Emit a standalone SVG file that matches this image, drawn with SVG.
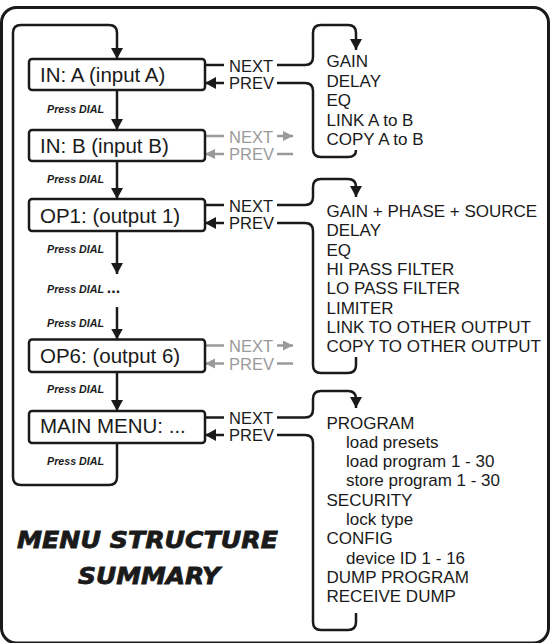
<svg xmlns="http://www.w3.org/2000/svg" width="551" height="643" viewBox="0 0 551 643">
<style>
.box{fill:#fff;stroke:#1a1a1a;stroke-width:2.5}
.bt{font-family:"Liberation Sans",Arial,sans-serif;font-size:20.5px;fill:#1a1a1a}
.nav{font-family:"Liberation Sans",Arial,sans-serif;font-size:16.5px;fill:#1a1a1a}
.navg{font-family:"Liberation Sans",Arial,sans-serif;font-size:16.5px;fill:#9a9a9a}
.pd{font-family:"Liberation Sans",Arial,sans-serif;font-size:10.7px;font-weight:bold;font-style:italic;fill:#1a1a1a}
.li{font-family:"Liberation Sans",Arial,sans-serif;font-size:17px;fill:#1a1a1a}
.ttl{font-family:"DejaVu Sans",sans-serif;font-size:23px;font-weight:bold;font-style:italic;fill:#1a1a1a;stroke:#1a1a1a;stroke-width:0.8}
.c{fill:none;stroke:#1a1a1a;stroke-width:2.5}
.cg{fill:none;stroke:#9a9a9a;stroke-width:2.5}
</style>
<defs>
<marker id="ah" markerUnits="userSpaceOnUse" markerWidth="12" markerHeight="12" refX="11" refY="6" orient="auto"><path d="M0,0 L11,6 L0,12 z" fill="#1a1a1a"/></marker>
<marker id="ahg" markerUnits="userSpaceOnUse" markerWidth="11" markerHeight="11" refX="10" refY="5" orient="auto"><path d="M0,0 L10,5 L0,10 z" fill="#9a9a9a"/></marker>
</defs>
<rect x="1.5" y="7.5" width="547" height="635.5" rx="15" fill="none" stroke="#1a1a1a" stroke-width="3"/>
<g id="connectors">
<path class="c" d="M117,443 V477 Q117,485 109,485 H21 Q13,485 13,477 V33 Q13,25 21,25 H109 Q117,25 117,33 V59" marker-end="url(#ah)"/>
<path class="c" d="M117,90 V130" marker-end="url(#ah)"/>
<path class="c" d="M117,161 V199" marker-end="url(#ah)"/>
<path class="c" d="M117,231 V274" marker-end="url(#ah)"/>
<path class="c" d="M117,307 V339.5" marker-end="url(#ah)"/>
<path class="c" d="M117,372 V411" marker-end="url(#ah)"/>
<path class="c" d="M205,65 H224"/>
<path class="c" d="M224,83 H205" marker-end="url(#ah)"/>
<path class="c" d="M277,65 H305 Q313,65 313,57 V33 Q313,25 321,25 H348 Q356,25 356,33 V50" marker-end="url(#ah)"/>
<path class="c" d="M277,83 H305 Q313,83 313,91 V149 Q313,157 321,157 H348 Q356,157 356,150"/>
<path class="cg" d="M205,136 H224"/>
<path class="cg" d="M277,136 H293" marker-end="url(#ahg)"/>
<path class="cg" d="M224,154 H205" marker-end="url(#ahg)"/>
<path class="cg" d="M277,154 H293"/>
<path class="c" d="M205,205 H224"/>
<path class="c" d="M224,223 H205" marker-end="url(#ah)"/>
<path class="c" d="M277,205 H305 Q313,205 313,197 V187 Q313,179 321,179 H348 Q356,179 356,187 V197" marker-end="url(#ah)"/>
<path class="c" d="M277,223 H305 Q313,223 313,231 V365 Q313,373 321,373 H348 Q356,373 356,365 V357"/>
<path class="cg" d="M205,345.5 H224"/>
<path class="cg" d="M277,345.5 H293" marker-end="url(#ahg)"/>
<path class="cg" d="M224,363.5 H205" marker-end="url(#ahg)"/>
<path class="cg" d="M277,363.5 H293"/>
<path class="c" d="M205,417.5 H224"/>
<path class="c" d="M224,435 H205" marker-end="url(#ah)"/>
<path class="c" d="M277,417.5 H305 Q313,417.5 313,409.5 V399 Q313,391 321,391 H348 Q356,391 356,399 V408" marker-end="url(#ah)"/>
<path class="c" d="M277,435 H305 Q313,435 313,443 V622 Q313,630 321,630 H348 Q356,630 356,622 V613"/>
</g>
<g id="node-in-a">
<rect class="box" x="29" y="59" width="176" height="31" rx="3"/>
<text class="bt" x="40" y="81.7">IN: A (input A)</text>
<text class="nav" x="229" y="71.5">NEXT</text>
<text class="nav" x="229" y="89">PREV</text>
</g>
<g id="node-in-b">
<rect class="box" x="29" y="130" width="176" height="31" rx="3"/>
<text class="bt" x="40" y="152.5">IN: B (input B)</text>
<text class="navg" x="229" y="142.5">NEXT</text>
<text class="navg" x="229" y="160">PREV</text>
</g>
<g id="node-op1">
<rect class="box" x="29" y="199" width="176" height="32" rx="3"/>
<text class="bt" x="40" y="222.5">OP1: (output 1)</text>
<text class="nav" x="229" y="211.5">NEXT</text>
<text class="nav" x="229" y="229">PREV</text>
</g>
<g id="node-op6">
<rect class="box" x="29" y="339.5" width="176" height="32.5" rx="3"/>
<text class="bt" x="40" y="363">OP6: (output 6)</text>
<text class="navg" x="229" y="352">NEXT</text>
<text class="navg" x="229" y="370">PREV</text>
</g>
<g id="node-main">
<rect class="box" x="29" y="411" width="176" height="32" rx="3"/>
<text class="bt" x="40" y="433">MAIN MENU: ...</text>
<text class="nav" x="229" y="424">NEXT</text>
<text class="nav" x="229" y="441">PREV</text>
</g>
<g id="press-dial-labels">
<text class="pd" x="47" y="112.5">Press DIAL</text>
<text class="pd" x="47" y="183">Press DIAL</text>
<text class="pd" x="47" y="252.7">Press DIAL</text>
<text class="pd" x="47" y="292.7">Press DIAL <tspan font-size="16px" font-style="normal">...</tspan></text>
<text class="pd" x="47" y="327.3">Press DIAL</text>
<text class="pd" x="47" y="393.3">Press DIAL</text>
<text class="pd" x="47" y="465">Press DIAL</text>
</g>
<g id="list-in">
<text class="li" x="326.5" y="67">GAIN</text>
<text class="li" x="326.5" y="86.5">DELAY</text>
<text class="li" x="326.5" y="106">EQ</text>
<text class="li" x="326.5" y="125.5">LINK A to B</text>
<text class="li" x="326.5" y="145">COPY A to B</text>
</g>
<g id="list-op">
<text class="li" x="326.5" y="217">GAIN + PHASE + SOURCE</text>
<text class="li" x="326.5" y="236.3">DELAY</text>
<text class="li" x="326.5" y="255.6">EQ</text>
<text class="li" x="326.5" y="274.9">HI PASS FILTER</text>
<text class="li" x="326.5" y="294.2">LO PASS FILTER</text>
<text class="li" x="326.5" y="313.5">LIMITER</text>
<text class="li" x="326.5" y="332.8">LINK TO OTHER OUTPUT</text>
<text class="li" x="326.5" y="352.1">COPY TO OTHER OUTPUT</text>
</g>
<g id="list-main">
<text class="li" x="326.5" y="428.5">PROGRAM</text>
<text class="li" x="346" y="447.8">load presets</text>
<text class="li" x="346" y="467.1">load program 1 - 30</text>
<text class="li" x="346" y="486.4">store program 1 - 30</text>
<text class="li" x="326.5" y="505.7">SECURITY</text>
<text class="li" x="346" y="525">lock type</text>
<text class="li" x="326.5" y="544.3">CONFIG</text>
<text class="li" x="346" y="563.6">device ID 1 - 16</text>
<text class="li" x="326.5" y="582.9">DUMP PROGRAM</text>
<text class="li" x="326.5" y="602.2">RECEIVE DUMP</text>
</g>
<g id="title">
<text class="ttl" x="17" y="548" textLength="261" lengthAdjust="spacingAndGlyphs">MENU STRUCTURE</text>
<text class="ttl" x="78" y="584" textLength="142" lengthAdjust="spacingAndGlyphs">SUMMARY</text>
</g>
</svg>
